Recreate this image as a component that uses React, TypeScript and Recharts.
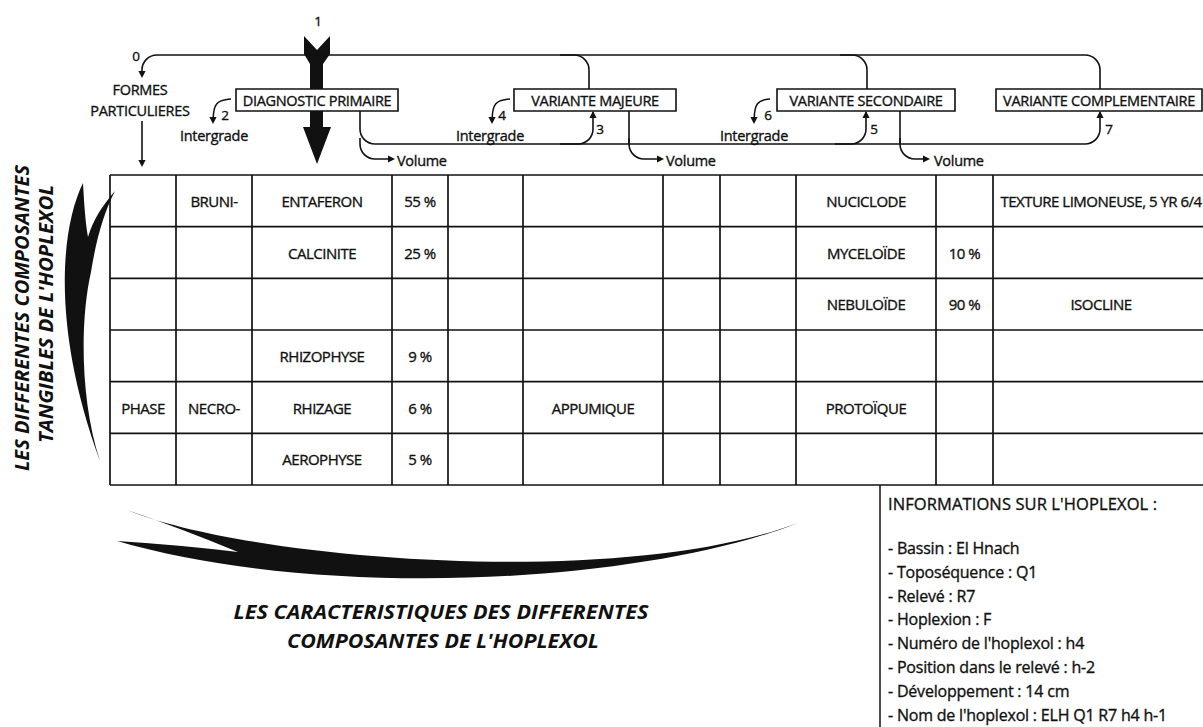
import React from 'react';
import { ComposedChart, XAxis, YAxis, Line, Scatter, ReferenceLine, ReferenceArea } from 'recharts';

// ---------------- DATA ----------------
const phaseColumn = ['', '', '', '', 'PHASE', ''];
const processColumn = ['BRUNI-', '', '', '', 'NECRO-', ''];
const componentNames = ['ENTAFERON', 'CALCINITE', '', 'RHIZOPHYSE', 'RHIZAGE', 'AEROPHYSE'];
const componentVolumes = ['55 %', '25 %', '', '9 %', '6 %', '5 %'];
const componentQualifiers = ['', '', '', '', 'APPUMIQUE', ''];
const featureNames = ['NUCICLODE', 'MYCELOÏDE', 'NEBULOÏDE', '', 'PROTOÏQUE', ''];
const featureVolumes = ['', '10 %', '90 %', '', '', ''];
const featureNotes = ['TEXTURE LIMONEUSE, 5 YR 6/4', '', 'ISOCLINE', '', '', ''];
const stageNames = ['DIAGNOSTIC PRIMAIRE', 'VARIANTE MAJEURE', 'VARIANTE SECONDAIRE', 'VARIANTE COMPLEMENTAIRE'];
const stepLabels = ['0', '1', '2', '3', '4', '5', '6', '7'];
const intergradeLabel = 'Intergrade';
const volumeLabel = 'Volume';
const formesLabel = ['FORMES', 'PARTICULIERES'];
const sideTitle = ['LES DIFFERENTES COMPOSANTES', "TANGIBLES DE L'HOPLEXOL"];
const bottomTitle = ['LES CARACTERISTIQUES DES DIFFERENTES', "COMPOSANTES DE L'HOPLEXOL"];
const infoTitle = "INFORMATIONS SUR L'HOPLEXOL :";
const infoLines = [
  '- Bassin : El Hnach',
  '- Toposéquence : Q1',
  '- Relevé : R7',
  '- Hoplexion : F',
  "- Numéro de l'hoplexol : h4",
  '- Position dans le relevé : h-2',
  '- Développement : 14 cm',
  "- Nom de l'hoplexol : ELH Q1 R7 h4 h-1",
];

// ---------------- LAYOUT (data units = page pixels) ----------------
const W = 1203;
const H = 727;
const FONT = '"Open Sans", "Noto Sans", sans-serif';
const INK = '#111';
const COL_EDGES = [110, 176, 252, 392, 448, 523, 663, 720, 796, 936, 993];
const LAST_COL_CENTER = 1101;
const TABLE_RIGHT = 1203;
const ROW_TOP = 175;
const ROW_BOTTOM = 485;
const ROW_COUNT = 6;
const ROW_H = (ROW_BOTTOM - ROW_TOP) / ROW_COUNT;
const colCenter = (c: number) => (c + 1 < COL_EDGES.length ? (COL_EDGES[c] + COL_EDGES[c + 1]) / 2 : LAST_COL_CENTER);
const TABLE_COLUMNS: [string[], number][] = [
  [phaseColumn, 0],
  [processColumn, 1],
  [componentNames, 2],
  [componentVolumes, 3],
  [componentQualifiers, 5],
  [featureNames, 8],
  [featureVolumes, 9],
  [featureNotes, 10],
];
const STAGE_X = [[236, 398], [514, 676], [777, 955], [996, 1202]];
const STAGE_Y = [89, 111];
const STEP_POS = [[136, 56], [318, 21], [225, 115], [600, 129], [502, 115], [874, 129], [768, 115], [1109, 129]];
const INTERGRADE_POS = [[214, 135], [490, 135], [754, 135]];
const VOLUME_POS = [[397, 160], [666, 160], [934, 160]];
const FORMES_POS = [[140, 89], [140, 110]];
const SIDE_POS = [[22, 318], [46, 314]];
const SIDE_LEN = [306, 258];
const BOTTOM_POS = [[441, 612], [443, 641]];
const BOTTOM_LEN = [415, 312];
const INFO_X = 888;
const INFO_TITLE_Y = 503;
const INFO_FIRST_Y = 548;
const INFO_STEP = 23.8;
const INFO_LINE_X = 880;

const ROUNDED_PATHS = [
  [[142, 76], [142, 55], [1100, 55], [1100, 89]],
  [[560, 55], [589, 55], [589, 89]],
  [[840, 55], [867, 55], [867, 89]],
  [[360, 111], [360, 144], [1100, 144], [1100, 112]],
  [[560, 144], [593, 144], [593, 112]],
  [[835, 144], [866, 144], [866, 112]],
  [[629, 111], [629, 144]],
  [[900, 111], [900, 144]],
  [[360, 138], [360, 159], [391, 159]],
  [[629, 138], [629, 159], [660, 159]],
  [[900, 138], [900, 159], [926, 159]],
  [[142, 121], [142, 165]],
];
const CURLY_PATHS = [
  [[231, 99], [214, 101], [213, 121]],
  [[510, 99], [493, 101], [492, 121]],
  [[770, 99], [755, 101], [754, 121]],
];
const ARROWHEADS = [
  [142, 78, 90], [142, 167, 90], [213, 124, 90], [492, 124, 90], [754, 124, 90],
  [593, 111, -90], [866, 111, -90], [1100, 111, -90],
  [395, 159, 0], [664, 159, 0], [930, 159, 0],
];

// ---------------- helpers ----------------
const roundedCurve = (r: number) => (context: any) => {
  let pts: number[][] = [];
  return {
    areaStart() {},
    areaEnd() {},
    lineStart() { pts = []; },
    lineEnd() {
      if (!pts.length) return;
      context.moveTo(pts[0][0], pts[0][1]);
      for (let i = 1; i < pts.length - 1; i++) {
        context.arcTo(pts[i][0], pts[i][1], pts[i + 1][0], pts[i + 1][1], r);
      }
      const last = pts[pts.length - 1];
      context.lineTo(last[0], last[1]);
    },
    point(x: number, y: number) { pts.push([+x, +y]); },
  };
};

const toPts = (p: number[][]) => p.map(([x, y]) => ({ x, y }));

const textShape = (style: any, rotate = false) => (p: any) => (
  <text
    x={p.cx}
    y={p.cy}
    fill={INK}
    fontFamily={FONT}
    dominantBaseline="central"
    transform={rotate ? `rotate(-90 ${p.cx} ${p.cy})` : undefined}
    textLength={p.payload.len}
    lengthAdjust={p.payload.len ? 'spacingAndGlyphs' : undefined}
    {...style}
  >
    {p.payload.label}
  </text>
);

const arrowShape = (p: any) => (
  <polygon
    points="0,0 -7,-3.6 -7,3.6"
    transform={`translate(${p.cx},${p.cy}) rotate(${p.payload.angle})`}
    fill={INK}
  />
);

// shapes drawn in a design box, mapped onto the ReferenceArea rectangle
const designShape = (d: string, box: number[]) => (p: any) => {
  const [bx0, by0, bx1, by1] = box;
  const sx = p.width / (bx1 - bx0);
  const sy = p.height / (by1 - by0);
  return (
    <path
      d={d}
      fill={INK}
      transform={`translate(${p.x - bx0 * sx},${p.y - by0 * sy}) scale(${sx},${sy})`}
    />
  );
};

const BIG_ARROW_BOX = [303, 36, 331, 164];
const BIG_ARROW_D =
  'M304 36 L317 50 L330 36 L330 54 L323 64 L323 89 L310 89 L310 64 L304 54 Z ' +
  'M310 111 L323 111 L323 127 L331 127 L317 164 L303 127 L310 127 Z';
const SIDE_BRACE_BOX = [52, 182, 116, 462];
const SIDE_BRACE_D =
  'M83 183 C60 230, 52 330, 100 461 C80 400, 80 320, 91 272 C96 240, 104 212, 115 191 ' +
  'C102 206, 93 220, 88 237 C85 220, 84 200, 83 183 Z';
const BOTTOM_SWOOSH_BOX = [117, 509, 798, 582];
const BOTTOM_SWOOSH_D =
  'M127 510 C250 560, 620 590, 798 523 C640 585, 320 600, 117 541 Q180 545, 238 552 Q180 528, 127 510 Z';

// ---------------- derived series ----------------
const tableCells = TABLE_COLUMNS.flatMap(([values, col]) =>
  values.map((label, row) => ({ x: colCenter(col), y: ROW_TOP + (row + 0.5) * ROW_H, label }))
).filter((c) => c.label);
const stageLabels = stageNames.map((label, i) => ({ x: (STAGE_X[i][0] + STAGE_X[i][1]) / 2, y: (STAGE_Y[0] + STAGE_Y[1]) / 2 + 0.5, label }));
const steps = stepLabels.map((label, i) => ({ x: STEP_POS[i][0], y: STEP_POS[i][1], label }));
const intergrades = INTERGRADE_POS.map(([x, y]) => ({ x, y, label: intergradeLabel }));
const volumes = VOLUME_POS.map(([x, y]) => ({ x, y, label: volumeLabel }));
const formes = formesLabel.map((label, i) => ({ x: FORMES_POS[i][0], y: FORMES_POS[i][1], label }));
const sideTitles = sideTitle.map((label, i) => ({ x: SIDE_POS[i][0], y: SIDE_POS[i][1], label, len: SIDE_LEN[i] }));
const bottomTitles = bottomTitle.map((label, i) => ({ x: BOTTOM_POS[i][0], y: BOTTOM_POS[i][1], label, len: BOTTOM_LEN[i] }));
const infoHead = [{ x: INFO_X, y: INFO_TITLE_Y, label: infoTitle }];
const infoTexts = infoLines.map((label, i) => ({ x: INFO_X, y: INFO_FIRST_Y + i * INFO_STEP, label }));
const arrowheads = ARROWHEADS.map(([x, y, angle]) => ({ x, y, angle }));

const rowEdges = Array.from({ length: ROW_COUNT + 1 }, (_, i) => ROW_TOP + i * ROW_H);

export default function App() {
  const ink = { stroke: INK, strokeWidth: 0.35 };
  const small = { fontSize: 14.5, letterSpacing: -0.3, ...ink };
  const title = { fontSize: 19, fontWeight: 700, fontStyle: 'italic', textAnchor: 'middle' };
  return (
    <div style={{ position: 'absolute', left: 0, top: 0, width: W, height: H, background: '#fff' }}>
      <ComposedChart width={W} height={H} margin={{ top: 0, right: 0, bottom: 0, left: 0 }}>
        <XAxis type="number" dataKey="x" domain={[0, W]} hide allowDataOverflow />
        <YAxis type="number" dataKey="y" domain={[0, H]} reversed hide allowDataOverflow />

        {/* table grid */}
        {rowEdges.map((y, i) => (
          <ReferenceLine key={'h' + i} segment={[{ x: COL_EDGES[0], y }, { x: TABLE_RIGHT, y }]} stroke={INK} strokeWidth={1.7} />
        ))}
        {COL_EDGES.map((x, i) => (
          <ReferenceLine key={'v' + i} segment={[{ x, y: ROW_TOP }, { x, y: ROW_BOTTOM }]} stroke={INK} strokeWidth={1.7} />
        ))}
        <ReferenceLine segment={[{ x: INFO_LINE_X, y: ROW_BOTTOM }, { x: INFO_LINE_X, y: H }]} stroke={INK} strokeWidth={1.5} />

        {/* stage boxes */}
        {STAGE_X.map(([x1, x2], i) => (
          <ReferenceArea key={'b' + i} x1={x1} x2={x2} y1={STAGE_Y[0]} y2={STAGE_Y[1]} fill="none" fillOpacity={0} stroke={INK} strokeWidth={1.6} />
        ))}

        {/* decorative filled shapes */}
        <ReferenceArea x1={BIG_ARROW_BOX[0]} x2={BIG_ARROW_BOX[2]} y1={BIG_ARROW_BOX[1]} y2={BIG_ARROW_BOX[3]} shape={designShape(BIG_ARROW_D, BIG_ARROW_BOX)} />
        <ReferenceArea x1={SIDE_BRACE_BOX[0]} x2={SIDE_BRACE_BOX[2]} y1={SIDE_BRACE_BOX[1]} y2={SIDE_BRACE_BOX[3]} shape={designShape(SIDE_BRACE_D, SIDE_BRACE_BOX)} />
        <ReferenceArea x1={BOTTOM_SWOOSH_BOX[0]} x2={BOTTOM_SWOOSH_BOX[2]} y1={BOTTOM_SWOOSH_BOX[1]} y2={BOTTOM_SWOOSH_BOX[3]} shape={designShape(BOTTOM_SWOOSH_D, BOTTOM_SWOOSH_BOX)} />

        {/* connectors */}
        {ROUNDED_PATHS.map((p, i) => (
          <Line key={'r' + i} data={toPts(p)} dataKey="y" type={roundedCurve(15) as any} stroke={INK} strokeWidth={1.6} dot={false} activeDot={false} isAnimationActive={false} legendType="none" />
        ))}
        {CURLY_PATHS.map((p, i) => (
          <Line key={'c' + i} data={toPts(p)} dataKey="y" type="basis" stroke={INK} strokeWidth={1.5} dot={false} activeDot={false} isAnimationActive={false} legendType="none" />
        ))}
        <Scatter data={arrowheads} shape={arrowShape} isAnimationActive={false} />

        {/* texts */}
        <Scatter data={tableCells} shape={textShape({ fontSize: 15, letterSpacing: -0.5, textAnchor: 'middle', ...ink })} isAnimationActive={false} />
        <Scatter data={stageLabels} shape={textShape({ ...small, textAnchor: 'middle' })} isAnimationActive={false} />
        <Scatter data={steps} shape={textShape({ fontSize: 13.5, textAnchor: 'middle', ...ink })} isAnimationActive={false} />
        <Scatter data={intergrades} shape={textShape({ ...small, textAnchor: 'middle' })} isAnimationActive={false} />
        <Scatter data={volumes} shape={textShape({ ...small, textAnchor: 'start' })} isAnimationActive={false} />
        <Scatter data={formes} shape={textShape({ ...small, textAnchor: 'middle' })} isAnimationActive={false} />
        <Scatter data={sideTitles} shape={textShape(title, true)} isAnimationActive={false} />
        <Scatter data={bottomTitles} shape={textShape(title)} isAnimationActive={false} />
        <Scatter data={infoHead} shape={textShape({ fontSize: 16.5, letterSpacing: 0.1, textAnchor: 'start', ...ink })} isAnimationActive={false} />
        <Scatter data={infoTexts} shape={textShape({ fontSize: 16, letterSpacing: -0.2, textAnchor: 'start', ...ink })} isAnimationActive={false} />
      </ComposedChart>
    </div>
  );
}
